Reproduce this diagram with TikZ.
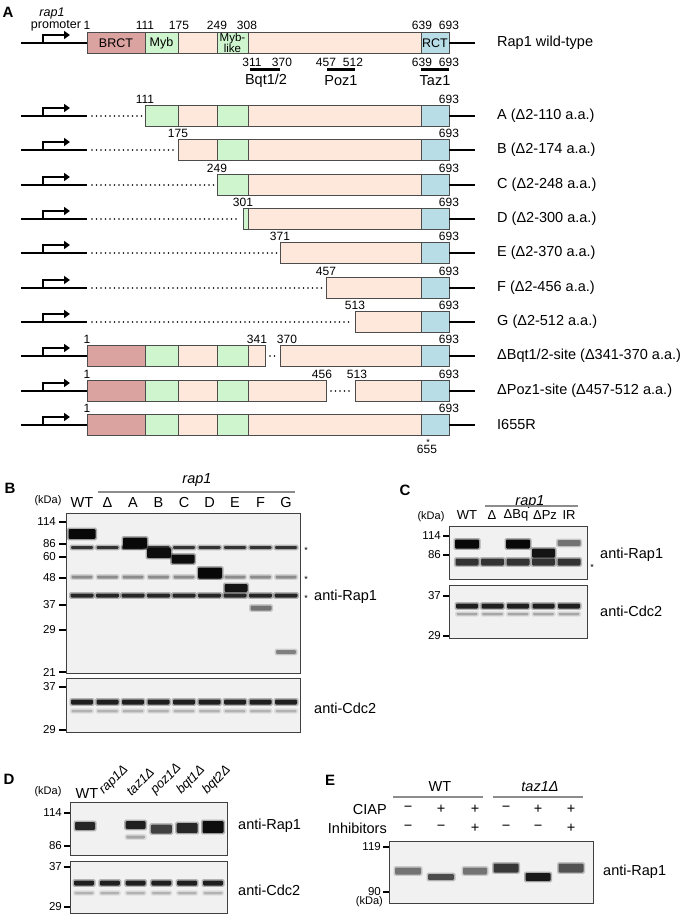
\documentclass[tikz,border=0pt]{standalone}
\usepackage{fontspec}
\setmainfont{Liberation Sans}
\usepackage{tikz}
\usetikzlibrary{arrows.meta,positioning,calc}

\definecolor{brctc}{RGB}{218,163,160}
\definecolor{mybc}{RGB}{206,245,206}
\definecolor{bodyc}{RGB}{253,232,219}
\definecolor{rctc}{RGB}{184,221,231}
\definecolor{blotbg}{RGB}{241,241,241}

\newcommand{\labsize}{\fontsize{14.5}{16}\selectfont}
\newcommand{\numsize}{\fontsize{12}{13}\selectfont}
\newcommand{\mwsize}{\fontsize{11.5}{12}\selectfont}
\newcommand{\kdasize}{\fontsize{11}{12}\selectfont}

% gene line with promoter arrow
\newcommand{\promoter}[1]{%
  \draw[genebar] (21,#1) -- (87,#1);
  \draw[promarrow] (43,#1) |- (70,#1-8);
}
% Rap1 domains, shown between two x positions
\newcommand{\rapbox}[3]{%
  \begin{scope}
    \clip (#2,#1-11) rectangle (#3,#1+11);
    \filldraw[dom, fill=brctc] (87,#1-10.5) rectangle (145,#1+10.5);
    \filldraw[dom, fill=mybc] (145,#1-10.5) rectangle (178,#1+10.5);
    \filldraw[dom, fill=bodyc] (178,#1-10.5) rectangle (217,#1+10.5);
    \filldraw[dom, fill=mybc] (217,#1-10.5) rectangle (248,#1+10.5);
    \filldraw[dom, fill=bodyc] (248,#1-10.5) rectangle (421,#1+10.5);
    \filldraw[dom, fill=rctc] (421,#1-10.5) rectangle (449,#1+10.5);
  \end{scope}
  \draw[dom] (#2,#1-10.5) rectangle (#3,#1+10.5);
}
% blot band: x, y, width, height, darkness
\newcommand{\bnd}[5]{%
  \fill[black!#5, opacity=0.3, rounded corners=1.5pt] (#1-#3/2-1.5,#2-#4/2-1.3) rectangle (#1+#3/2+1.5,#2+#4/2+1.3);
  \fill[black!#5, rounded corners=1.2pt] (#1-#3/2,#2-#4/2) rectangle (#1+#3/2,#2+#4/2);
}

\begin{document}
\begin{tikzpicture}[
  x=1pt, y=-1pt,
  dom/.style={draw=black!70, line width=0.9pt},
  genebar/.style={line width=1.4pt},
  dotline/.style={line width=1.6pt, line cap=round, dash pattern=on 0pt off 4.5pt},
  promarrow/.style={line width=2.4pt, -{Triangle[length=6pt,width=8pt]}},
  aa/.style={font=\numsize, inner sep=0pt},
  site/.style={line width=3pt},
  rowlabel/.style={font=\labsize, anchor=west, inner sep=0pt},
  panel/.style={font=\fontsize{15}{16}\selectfont\bfseries, inner sep=0pt},
  blot/.style={draw=black!75, fill=blotbg, line width=0.9pt},
  tick/.style={line width=1.2pt},
  mw/.style={font=\mwsize, anchor=east, inner sep=0pt},
  lane/.style={font=\labsize, inner sep=0pt},
  kda/.style={font=\kdasize, inner sep=0pt},
  star/.style={font=\fontsize{9}{9}\selectfont, inner sep=0pt},
  grayline/.style={draw=black!45, line width=1.2pt}
]
\fill[white] (0,0) rectangle (686,918);
\useasboundingbox (0,0) rectangle (686,918);

% ---------------- A
\node[panel] (pA) at (8,12.5) {A};
\node[font=\fontsize{12.5}{13}\selectfont\itshape, inner sep=0pt] (rapname) at (52,13) {rap1};
\node[font=\fontsize{12.5}{13}\selectfont, inner sep=0pt] (promname) at (56,26) {promoter};

\promoter{43}
\rapbox{43}{87}{449}
\draw[genebar] (449,43) -- (475,43);
\node[font=\fontsize{12.5}{13}\selectfont, inner sep=0pt] (brct) at (116,43) {BRCT};
\node[font=\fontsize{12.5}{13}\selectfont, inner sep=0pt] (myb) at (161.5,43) {Myb};
\node[font=\fontsize{11.5}{9.5}\selectfont, inner sep=0pt, align=center] (myblike) at (232.5,43) {Myb-\\like};
\node[font=\fontsize{12.5}{13}\selectfont, inner sep=0pt] (rct) at (435,43) {RCT};
\node[rowlabel] (wtlabel) at (497,43) {Rap1 wild-type};
\foreach \x/\n in {87/1,145/111,179/175,217/249,247/308,422/639,449/693}
  \node[aa] (wt\n) at (\x,25.5) {\n};

% binding sites
\node[aa] (b311) at (252,62) {311};
\node[aa] (b370) at (282,62) {370};
\node[aa] (p457) at (326,62) {457};
\node[aa] (p512) at (353,62) {512};
\node[aa] (t639) at (422,62) {639};
\node[aa] (t693) at (449,62) {693};
\draw[site] (250,69) -- (280,69);
\draw[site] (327,69) -- (355,69);
\draw[site] (421,69) -- (449,69);
\node[lane] (bqt) at (266,80.5) {Bqt1/2};
\node[lane] (poz) at (341,80.5) {Poz1};
\node[lane] (taz) at (435,80.5) {Taz1};

% truncations
\foreach \y/\s/\n/\t in {116/145/111/{A (Δ2-110 a.a.)},
    150/178/175/{B (Δ2-174 a.a.)},
    185/217/249/{C (Δ2-248 a.a.)},
    219/243/301/{D (Δ2-300 a.a.)},
    253/280/371/{E (Δ2-370 a.a.)},
    288/326/457/{F (Δ2-456 a.a.)},
    322/355/513/{G (Δ2-512 a.a.)}} {
  \promoter{\y}
  \draw[dotline] (92,\y) -- (\s-3,\y);
  \rapbox{\y}{\s}{449}
  \draw[genebar] (449,\y) -- (475,\y);
  \node[aa] (n\n) at (\s,\y-16.5) {\n};
  \node[aa] (e\n) at (449,\y-16.5) {693};
  \node[rowlabel] (r\n) at (497,\y) {\t};
}

% Bqt1/2-site deletion
\promoter{356}
\rapbox{356}{87}{265}
\draw[dotline] (270,356) -- (275,356);
\rapbox{356}{280}{449}
\draw[genebar] (449,356) -- (475,356);
\node[aa] (q1) at (87,339.5) {1};
\node[aa] (q341) at (257,339.5) {341};
\node[aa] (q370) at (287,339.5) {370};
\node[aa] (q693) at (449,339.5) {693};
\node[rowlabel] (rbqt) at (497,356) {ΔBqt1/2-site (Δ341-370 a.a.)};

% Poz1-site deletion
\promoter{391}
\rapbox{391}{87}{326}
\draw[dotline] (331,391) -- (351,391);
\rapbox{391}{355}{449}
\draw[genebar] (449,391) -- (475,391);
\node[aa] (z1) at (87,374.5) {1};
\node[aa] (z456) at (322,374.5) {456};
\node[aa] (z513) at (357,374.5) {513};
\node[aa] (z693) at (449,374.5) {693};
\node[rowlabel] (rpoz) at (497,391) {ΔPoz1-site (Δ457-512 a.a.)};

% I655R
\promoter{425}
\rapbox{425}{87}{449}
\draw[genebar] (449,425) -- (475,425);
\node[aa] (i1) at (87,408.5) {1};
\node[aa] (i693) at (449,408.5) {693};
\node[aa] (i655) at (427,449) {655};
\node[star] (istar) at (428,442) {*};
\node[rowlabel] (rir) at (497,425) {I655R};

% ---------------- B
\node[panel] (pB) at (10,488) {B};
\node[lane, font=\labsize\itshape] (rapB) at (197,480) {rap1};
\draw[grayline] (98,492) -- (295,492);
\node[kda] (kdaB) at (48,501) {(kDa)};
\foreach \l [count=\i from 0] in {WT,Δ,A,B,C,D,E,F,G}
  \node[lane] (laneB\i) at (82+25.5*\i,503) {\l};
\draw[blot] (66,513) rectangle (300,673);
\draw[blot] (66,678) rectangle (300,732);
\foreach \m/\y in {114/522,86/544,60/557,48/578,37/605,29/630,21/672} {
  \draw[tick] (59,\y) -- (66,\y);
  \node[mw] (mB\m) at (56,\y) {\m};
}
\draw[tick] (59,687) -- (66,687);
\node[mw] (mBc37) at (56,687) {37};
\draw[tick] (59,730) -- (66,730);
\node[mw] (mBc29) at (56,730) {29};
\foreach \i in {0,...,8} {
  \bnd{82+25.5*\i}{547.5}{22}{3}{80}
  \bnd{82+25.5*\i}{577}{21}{3}{45}
  \bnd{82+25.5*\i}{595.5}{23}{4}{85}
  \bnd{82+25.5*\i}{702}{22}{5}{88}
  \bnd{82+25.5*\i}{711}{21}{2.5}{30}
}
\bnd{82}{534}{27}{10}{97}
\bnd{135}{543}{24}{11}{97}
\bnd{159}{553}{24}{10}{95}
\bnd{183}{559}{23}{9}{95}
\bnd{210}{573}{24}{11}{97}
\bnd{236}{588}{23}{8}{92}
\bnd{261}{608}{21}{5}{55}
\bnd{286}{652}{20}{4}{50}
\node[star] (sB1) at (306,550) {*};
\node[star] (sB2) at (306,579) {*};
\node[star] (sB3) at (306,598) {*};
\node[rowlabel] (abB) at (314,597) {anti-Rap1};
\node[rowlabel] (cdB) at (314,708) {anti-Cdc2};

% ---------------- C
\node[panel] (pC) at (405,490) {C};
\node[lane, font=\labsize\itshape] (rapC) at (530,502) {rap1};
\draw[grayline] (485,506) -- (578,506);
\node[kda] (kdaC) at (431,517) {(kDa)};
\foreach \l/\x [count=\i from 0] in {WT/467,Δ/492,ΔBq/516,ΔPz/545,IR/569}
  \node[lane, font=\fontsize{13}{14}\selectfont] (laneC\i) at (\x,515.5) {\l};
\draw[blot] (449,526) rectangle (587,579);
\draw[blot] (449,585) rectangle (587,638);
\foreach \m/\y/\k in {114/536/a,86/555/b,37/596/c,29/636/d} {
  \draw[tick] (443,\y) -- (449,\y);
  \node[mw] (mC\k) at (441,\y) {\m};
}
\foreach \i in {0,...,4} {
  \bnd{467+25.5*\i}{562}{23}{7}{80}
  \bnd{467+25.5*\i}{606}{22}{5}{88}
  \bnd{467+25.5*\i}{614}{21}{2.5}{35}
}
\bnd{467}{544}{24}{9}{97}
\bnd{518}{544}{24}{9}{97}
\bnd{543.5}{553}{23}{9}{92}
\bnd{569}{543}{23}{6}{55}
\node[star] (sC) at (592,567) {*};
\node[rowlabel] (abC) at (600,555) {anti-Rap1};
\node[rowlabel] (cdC) at (600,611) {anti-Cdc2};

% ---------------- D
\node[panel] (pD) at (9,779) {D};
\node[kda] (kdaD) at (48,792) {(kDa)};
\node[lane] (laneD0) at (87,794) {WT};
\foreach \l [count=\i] in {rap1Δ,taz1Δ,poz1Δ,bqt1Δ,bqt2Δ}
  \node[lane, font=\fontsize{13}{14}\selectfont\itshape, rotate=45, anchor=south west] (laneD\i) at (84+25.8*\i-4,797) {\l};
\draw[blot] (70,802) rectangle (227,855);
\draw[blot] (70,861) rectangle (227,913);
\foreach \m/\y/\k in {114/813/a,86/846/b,37/867/c,29/907/d} {
  \draw[tick] (64,\y) -- (70,\y);
  \node[mw] (mD\k) at (62,\y) {\m};
}
\foreach \i in {0,...,5} {
  \bnd{84+25.8*\i}{883}{20}{5}{88}
  \bnd{84+25.8*\i}{893}{19}{2.5}{30}
}
\bnd{85}{826}{20}{8}{85}
\bnd{135.6}{825}{20}{8}{88}
\bnd{135.6}{837}{19}{3}{35}
\bnd{161.4}{829}{21}{9}{75}
\bnd{187.2}{828}{21}{10}{85}
\bnd{213}{827}{21}{12}{95}
\node[rowlabel] (abD) at (238,826) {anti-Rap1};
\node[rowlabel] (cdD) at (238,890) {anti-Cdc2};

% ---------------- E
\node[panel] (pE) at (330,780) {E};
\node[lane] (wtE) at (440,787) {WT};
\draw[grayline] (393,797) -- (483,797);
\node[lane, font=\labsize\itshape] (tazE) at (540,787) {taz1Δ};
\draw[grayline] (493,797) -- (583,797);
\node[lane, anchor=east] (ciap) at (387,809) {CIAP};
\node[lane, anchor=east] (inhib) at (387,828) {Inhibitors};
\foreach \x/\a/\b [count=\i] in {408/−/−,441/+/−,475/+/+,506/−/−,538/+/−,571/+/+} {
  \node[lane] (ca\i) at (\x,809) {\a};
  \node[lane] (in\i) at (\x,828) {\b};
}
\draw[blot] (389,841) rectangle (593,903);
\draw[tick] (383,847) -- (389,847);
\node[mw] (mE119) at (381,847) {119};
\draw[tick] (383,892) -- (389,892);
\node[mw] (mE90) at (381,892) {90};
\node[kda, anchor=east] (kdaE) at (383,902) {(kDa)};
\bnd{408}{871}{26}{7}{55}
\bnd{441}{877}{26}{6}{70}
\bnd{475}{871}{24}{7}{55}
\bnd{506}{868}{25}{9}{78}
\bnd{538}{877}{25}{8}{90}
\bnd{571}{868}{25}{9}{68}
\node[rowlabel] (abE) at (603,872) {anti-Rap1};

\end{tikzpicture}
\end{document}
